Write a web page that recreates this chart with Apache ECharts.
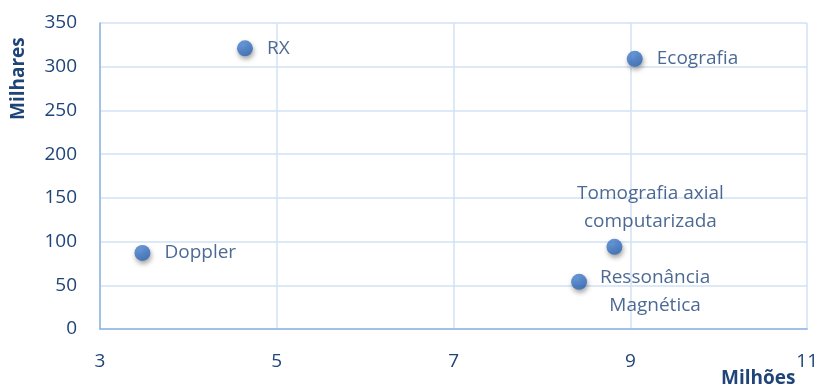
<!DOCTYPE html>
<html>
<head>
<meta charset="utf-8">
<script src="https://cdn.jsdelivr.net/npm/echarts@6/dist/echarts.min.js"></script>
<style>
  html, body { margin: 0; padding: 0; background: #fff; }
  #chart { width: 821px; height: 390px; }
</style>
</head>
<body>
<div id="chart"></div>
<script>
// dados (milhões x milhares)
const names = ['RX', 'Ecografia', 'Tomografia axial\ncomputarizada', 'Ressonância\nMagnética', 'Doppler'];
const xValues = [4.64, 9.05, 8.82, 8.42, 3.48];
const yValues = [321, 309, 94, 54, 87];
const xTicks = [3, 5, 7, 9, 11];
const yTicks = [0, 50, 100, 150, 200, 250, 300, 350];

const textColor = '#1F4478';
const fontFam = '"Open Sans", "Liberation Sans", sans-serif';

// posicao das etiquetas
function labelFor(i) {
  if (i === 2) return { position: 'inside', align: 'center', offset: [36, -39] };
  if (i === 3) return { position: 'inside', align: 'center', offset: [76, 10] };
  return { position: 'right', distance: 14 };
}

const points = names.map((n, i) => ({
  name: n,
  value: [xValues[i], yValues[i]],
  label: labelFor(i)
}));

const chart = echarts.init(document.getElementById('chart'));
chart.setOption({
  animation: false,
  grid: { left: 100, right: 12, top: 23, bottom: 61 },
  xAxis: {
    type: 'value',
    min: xTicks[0], max: xTicks[xTicks.length - 1], interval: 2,
    axisLine: { show: true, lineStyle: { color: '#8fb4e3', width: 1.5 } },
    axisTick: { show: false },
    axisLabel: { color: textColor, fontSize: 19, fontFamily: fontFam, margin: 23 },
    splitLine: { show: true, lineStyle: { color: '#d3e2f5', width: 1.5 } }
  },
  yAxis: {
    type: 'value',
    min: yTicks[0], max: yTicks[yTicks.length - 1], interval: 50,
    axisLine: { show: true, lineStyle: { color: '#8fb4e3', width: 1.5 } },
    axisTick: { show: false },
    axisLabel: { color: textColor, fontSize: 19, fontFamily: fontFam, margin: 23 },
    splitLine: { show: true, lineStyle: { color: '#d3e2f5', width: 1.5 } }
  },
  graphic: [
    {
      type: 'text', left: 721, top: 369,
      style: { text: 'Milhões', fill: textColor, font: 'bold 19px ' + fontFam }
    },
    {
      type: 'text', x: 9, y: 120, rotation: Math.PI / 2,
      style: { text: 'Milhares', fill: textColor, font: 'bold 19px ' + fontFam }
    }
  ],
  series: [{
    type: 'scatter',
    symbolSize: 16,
    data: points,
    itemStyle: {
      color: new echarts.graphic.RadialGradient(0.4, 0.35, 0.7, [
        { offset: 0, color: '#4c88d8' },
        { offset: 1, color: '#2c64b4' }
      ]),
      shadowColor: 'rgba(0,0,0,0.45)',
      shadowBlur: 5,
      shadowOffsetX: 1,
      shadowOffsetY: 3
    },
    label: {
      show: true,
      formatter: p => p.name,
      color: textColor,
      fontSize: 19,
      fontFamily: fontFam,
      lineHeight: 28
    }
  }]
});
</script>
</body>
</html>
